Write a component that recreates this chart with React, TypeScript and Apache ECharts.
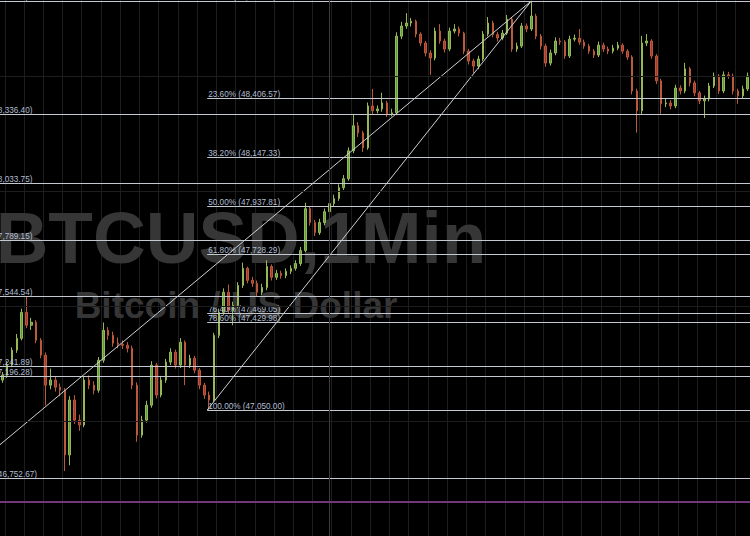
import React, { useEffect, useRef } from "react";
import * as echarts from "echarts";

// BTCUSD 1-minute bars (price in USD)
const firstOpen = 47180;
const closes = [
  47201, 47245, 47310, 47361, 47474, 47418, 47431, 47353, 47288, 47158,
  47180, 47149, 47136, 46855, 47093, 47006, 46985, 47180, 47158, 47136,
  47266, 47396, 47374, 47340, 47335, 47331, 47318, 47158, 46941, 47006,
  47071, 47245, 47115, 47180, 47258, 47301, 47245, 47344, 47245, 47275,
  47223, 47158, 47115, 47093, 47374, 47474, 47561, 47483, 47504, 47591,
  47665, 47613, 47600, 47561, 47582, 47673, 47626, 47643, 47634, 47652,
  47665, 47686, 47742, 47924, 47864, 47820, 47864, 47911, 47946, 47968,
  48015, 48054, 48175, 48284, 48253, 48188, 48370, 48349, 48357, 48383,
  48336, 48340, 48673, 48717, 48730, 48738, 48682, 48643, 48600, 48578,
  48695, 48652, 48617, 48695, 48704, 48686, 48608, 48565, 48543, 48574,
  48682, 48730, 48680, 48665, 48686, 48747, 48617, 48630, 48717, 48704,
  48760, 48673, 48630, 48556, 48600, 48652, 48648, 48587, 48660, 48664,
  48647, 48630, 48608, 48591, 48634, 48617, 48608, 48621, 48634, 48608,
  48582, 48435, 48349, 48643, 48652, 48587, 48479, 48379, 48383, 48370,
  48448, 48435, 48531, 48470, 48427, 48392, 48401, 48457, 48500, 48435,
  48505, 48500, 48435, 48414, 48444, 48500,
];
const highs = [
  47215, 47262, 47322, 47380, 47490, 47544, 47450, 47440, 47362, 47300,
  47230, 47195, 47165, 47145, 47110, 47115, 47030, 47195, 47200, 47175,
  47280, 47430, 47410, 47390, 47365, 47352, 47345, 47330, 47170, 47025,
  47090, 47262, 47255, 47198, 47272, 47318, 47312, 47362, 47352, 47290,
  47285, 47232, 47168, 47130, 47385, 47490, 47578, 47595, 47520, 47605,
  47690, 47672, 47628, 47612, 47598, 47700, 47682, 47658, 47655, 47665,
  47678, 47700, 47758, 47950, 47935, 47875, 47880, 47925, 47960, 47985,
  48030, 48070, 48190, 48335, 48300, 48262, 48385, 48444, 48372, 48427,
  48392, 48358, 48690, 48735, 48773, 48752, 48745, 48690, 48652, 48612,
  48710, 48725, 48662, 48710, 48725, 48715, 48692, 48618, 48575, 48588,
  48695, 48756, 48740, 48692, 48700, 48765, 48755, 48645, 48730, 48728,
  48825.61, 48770, 48682, 48640, 48615, 48668, 48665, 48656, 48675, 48680,
  48704, 48658, 48640, 48617, 48650, 48645, 48628, 48635, 48648, 48642,
  48616, 48590, 48445, 48674, 48682, 48660, 48595, 48488, 48400, 48395,
  48462, 48460, 48557, 48540, 48480, 48435, 48415, 48470, 48515, 48508,
  48520, 48518, 48510, 48445, 48458, 48515,
];
const lows = [
  47168, 47190, 47236, 47298, 47352, 47405, 47398, 47340, 47275, 47070,
  47140, 47130, 47110, 46785, 46810, 46990, 46960, 46975, 47140, 47118,
  47125, 47255, 47355, 47325, 47318, 47315, 47300, 47140, 46912, 46930,
  46995, 47060, 47100, 47105, 47168, 47245, 47230, 47232, 47158, 47232,
  47210, 47140, 47098, 47050, 47085, 47362, 47462, 47470, 47418, 47492,
  47580, 47600, 47585, 47545, 47550, 47570, 47612, 47615, 47620, 47622,
  47640, 47655, 47675, 47735, 47850, 47805, 47810, 47852, 47900, 47935,
  47958, 48005, 48045, 48165, 48235, 48170, 48180, 48335, 48338, 48345,
  48322, 48325, 48330, 48660, 48705, 48715, 48668, 48630, 48585, 48505,
  48568, 48640, 48602, 48608, 48685, 48672, 48595, 48550, 48513, 48530,
  48565, 48672, 48668, 48650, 48655, 48678, 48605, 48605, 48622, 48690,
  48695, 48660, 48615, 48540, 48545, 48590, 48635, 48575, 48578, 48650,
  48635, 48618, 48596, 48578, 48582, 48604, 48595, 48598, 48612, 48596,
  48570, 48420, 48254, 48335, 48630, 48575, 48465, 48336, 48365, 48355,
  48360, 48420, 48425, 48455, 48412, 48378, 48318, 48390, 48448, 48422,
  48425, 48488, 48420, 48379, 48402, 48435,
];

// Fibonacci retracements (two drawings)
const fibPercents = ["0.00%", "23.60%", "38.20%", "50.00%", "61.80%", "76.40%", "78.60%", "100.00%"];
const leftFibPrices = [48825.61, 48336.4, 48033.75, 47789.15, 47544.54, 47241.89, 47196.28, 46752.67];
const midFibPrices = [48825.61, 48406.57, 48147.33, 47937.81, 47728.29, 47469.05, 47429.98, 47050.0];
const fibStartBars = [-8.42, 43.1]; // bar position of each drawing's 100% anchor
const fibHighBar = 110.5; // bar position of the 0% anchor (session high)

const gridPrices = [47000, 47500, 48000, 48500];
const alertPrice = 46652;
const sessionBreakBar = 68;
const yMin = 46503;
const yMax = 48830;

const watermarkTitle = "BTCUSD,1Min";
const watermarkSub = "Bitcoin / US Dollar";

export default function App() {
  const ref = useRef<HTMLDivElement>(null);

  useEffect(() => {
    if (!ref.current) return;
    const chart = echarts.init(ref.current, null, { renderer: "svg" });
    const n = Math.min(closes.length, highs.length, lows.length);
    const cats = closes.slice(0, n).map((_, i) => String(i));
    const opens = [firstOpen, ...closes.slice(0, n - 1)];
    const candles = closes.slice(0, n).map((c, i) => [opens[i], c, lows[i], highs[i]]);
    const fmt = (p: number) =>
      p.toLocaleString("en-US", { minimumFractionDigits: 2, maximumFractionDigits: 2 });

    const fibItems: any[] = [];
    [leftFibPrices, midFibPrices].forEach((prices, f) => {
      prices.forEach((p, k) => {
        fibItems.push({ value: [fibStartBars[f], p], name: `${fibPercents[k]} (${fmt(p)})` });
      });
    });

    const fibLineColor = "#c4c8d0";
    const fibTextColor = "#b0bdd0";

    chart.setOption({
      animation: false,
      backgroundColor: "#000000",
      grid: { left: 0, right: 0, top: 0, bottom: 0, containLabel: false },
      xAxis: [
        {
          type: "category",
          data: cats,
          boundaryGap: true,
          axisLine: { show: false },
          axisTick: { show: false },
          axisLabel: { show: false },
          splitLine: {
            show: true,
            interval: (i: number) => i % 4 === 1,
            lineStyle: { color: "#1d1d1d", width: 1 },
          },
        },
        {
          type: "value",
          min: 0,
          max: n,
          position: "top",
          axisLine: { show: false },
          axisTick: { show: false },
          axisLabel: { show: false },
          splitLine: { show: false },
        },
      ],
      yAxis: {
        type: "value",
        min: yMin,
        max: yMax,
        axisLine: { show: false },
        axisTick: { show: false },
        axisLabel: { show: false },
        splitLine: { show: false },
      },
      graphic: [
        {
          type: "text",
          x: 241,
          y: 237,
          z: 1,
          silent: true,
          style: {
            text: watermarkTitle,
            fontSize: 73,
            fontWeight: "bold",
            fontFamily: "Liberation Sans, Arial, sans-serif",
            fill: "#363636",
            align: "center",
            verticalAlign: "middle",
          },
        },
        {
          type: "text",
          x: 236,
          y: 305,
          z: 1,
          silent: true,
          style: {
            text: watermarkSub,
            fontSize: 37,
            fontWeight: "bold",
            fontFamily: "Liberation Sans, Arial, sans-serif",
            fill: "#363636",
            align: "center",
            verticalAlign: "middle",
          },
        },
      ],
      series: [
        {
          type: "candlestick",
          xAxisIndex: 0,
          yAxisIndex: 0,
          data: candles,
          barWidth: 2,
          z: 3,
          itemStyle: {
            color: "#5a9e3c",
            color0: "#ad3530",
            borderColor: "#98b858",
            borderColor0: "#bb5a3a",
            borderWidth: 1,
          },
          markLine: {
            silent: true,
            symbol: "none",
            animation: false,
            label: { show: false },
            data: [
              ...gridPrices.map((p) => ({ yAxis: p, lineStyle: { color: "#1d1d1d", width: 1, type: "solid" } })),
              { xAxis: sessionBreakBar, lineStyle: { color: "#3c3c3c", width: 1, type: "solid" } },
              { yAxis: alertPrice, lineStyle: { color: "#74377a", width: 2, type: "solid" } },
            ],
          },
        },
        {
          type: "custom",
          xAxisIndex: 1,
          yAxisIndex: 0,
          z: 4,
          silent: true,
          data: fibItems,
          renderItem: (params: any, api: any) => {
            const x0 = api.value(0);
            const p = api.value(1);
            const s = api.coord([x0, p]);
            const e = api.coord([n, p]);
            const y = Math.round(s[1]) + 0.5;
            const name = fibItems[params.dataIndex].name;
            return {
              type: "group",
              children: [
                {
                  type: "line",
                  shape: { x1: s[0], y1: y, x2: e[0], y2: y },
                  style: { stroke: fibLineColor, lineWidth: 1 },
                },
                {
                  type: "text",
                  x: s[0] + 1,
                  y: y - 0.5,
                  style: {
                    text: name,
                    fill: fibTextColor,
                    fontSize: 8.2,
                    fontFamily: "Liberation Sans, Arial, sans-serif",
                    align: "left",
                    verticalAlign: "bottom",
                  },
                },
              ],
            };
          },
        },
        {
          type: "line",
          xAxisIndex: 1,
          yAxisIndex: 0,
          z: 4,
          silent: true,
          symbol: "none",
          data: [
            [fibStartBars[0], leftFibPrices[leftFibPrices.length - 1]],
            [fibHighBar, leftFibPrices[0]],
          ],
          lineStyle: { color: "#cdd0d6", width: 1 },
        },
        {
          type: "line",
          xAxisIndex: 1,
          yAxisIndex: 0,
          z: 4,
          silent: true,
          symbol: "none",
          data: [
            [fibStartBars[1], midFibPrices[midFibPrices.length - 1]],
            [fibHighBar, midFibPrices[0]],
          ],
          lineStyle: { color: "#cdd0d6", width: 1 },
        },
      ],
    });

    return () => chart.dispose();
  }, []);

  return (
    <div
      ref={ref}
      style={{ position: "fixed", left: 0, top: 0, width: 750, height: 536, background: "#000" }}
    />
  );
}
